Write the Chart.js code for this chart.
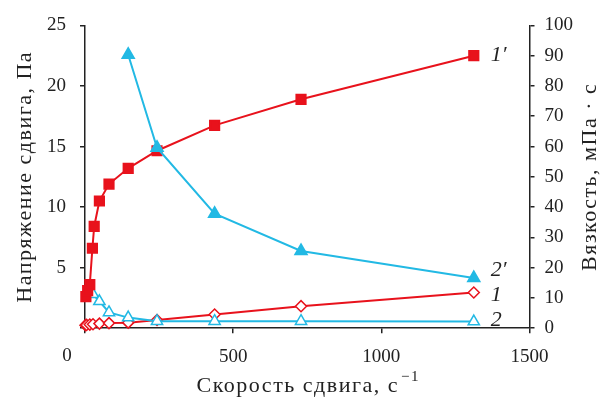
<!DOCTYPE html>
<html>
<head>
<meta charset="utf-8">
<script src="https://cdn.jsdelivr.net/npm/chart.js@4"></script>
<style>
  html, body { margin: 0; padding: 0; background: #fff; }
  #wrap { width: 603px; height: 406px; }
</style>
</head>
<body>
<div id="wrap"><canvas id="c"></canvas></div>
<script>
// shear rate, 1/s
const rate1p = [3, 9, 16.2, 25, 31, 48.6, 81, 145.8, 243, 437.4, 729, 1312];
const rate1 = [1.5, 5.4, 16.2, 27, 48.6, 81, 145.8, 243, 437.4, 729, 1312];
const rate2 = [27, 48.6, 81, 145.8, 243, 437.4, 729, 1312];
const rate2p = [145.8, 243, 437.4, 729, 1312];

// shear stress, Pa (left axis)
const stress1p = [2.6, 3.1, 3.6, 6.6, 8.4, 10.5, 11.9, 13.2, 14.65, 16.75, 18.9, 22.5];
const stress1 = [0.25, 0.27, 0.3, 0.33, 0.38, 0.42, 0.46, 0.68, 1.13, 1.82, 2.95];

// viscosity, mPa·s (right axis)
const visc2 = [11.2, 8.9, 5.2, 3.5, 2.3, 2.3, 2.3, 2.2];
const visc2p = [90.3, 59.6, 37.8, 25.5, 16.6];

const xTicks = [0, 500, 1000, 1500];
const curveLabels = ['1\u2032', '1', '2', '2\u2032'];

const red = '#e8121c';
const blue = '#22b9e4';

const pts = (xs, ys) => xs.map((v, i) => ({x: v, y: ys[i]}));

const tickFont = {family: '"Liberation Serif", serif', size: 19};

const annotations = {
  id: 'annotations',
  afterDraw(chart) {
    const {ctx, chartArea: a, scales} = chart;
    const midY = (a.top + a.bottom) / 2;
    ctx.save();
    ctx.fillStyle = '#222';

    // "0" on the x axis sits left of the axis corner
    ctx.font = '19px "Liberation Serif"';
    ctx.textAlign = 'center';
    ctx.textBaseline = 'middle';
    ctx.fillText('0', scales.x.getPixelForValue(0) - 18, 356);

    ctx.font = '22px "Liberation Serif"';
    ctx.letterSpacing = '1.5px';

    // x title with superscript
    const main = 'Скорость сдвига, с';
    const w1 = ctx.measureText(main).width;
    ctx.font = '15px "Liberation Serif"';
    const w2 = ctx.measureText('\u22121').width;
    const x0 = (a.left + a.right) / 2 - (w1 + w2) / 2;
    ctx.textAlign = 'left';
    ctx.font = '22px "Liberation Serif"';
    ctx.fillText(main, x0, 386);
    ctx.font = '15px "Liberation Serif"';
    ctx.fillText('\u22121', x0 + w1 + 2, 377);

    ctx.font = '22px "Liberation Serif"';
    ctx.textAlign = 'center';
    ctx.save();
    ctx.translate(25, midY);
    ctx.rotate(-Math.PI / 2);
    ctx.fillText('Напряжение сдвига, Па', 0, 0);
    ctx.restore();

    ctx.save();
    ctx.translate(590, midY);
    ctx.rotate(-Math.PI / 2);
    ctx.fillText('Вязкость, мПа · с', 0, 0);
    ctx.restore();

    // curve labels next to the last points
    ctx.letterSpacing = '0px';
    ctx.font = 'italic 22px "Liberation Serif"';
    ctx.textAlign = 'left';
    const last = (arr) => arr[arr.length - 1];
    const lx = scales.x.getPixelForValue(last(rate1p)) + 17;
    ctx.fillText(curveLabels[0], lx, scales.y.getPixelForValue(last(stress1p)));
    ctx.fillText(curveLabels[1], lx, scales.y.getPixelForValue(last(stress1)) + 3);
    ctx.fillText(curveLabels[2], lx, scales.y1.getPixelForValue(last(visc2)) - 1);
    ctx.fillText(curveLabels[3], lx, scales.y1.getPixelForValue(last(visc2p)) - 8);
    ctx.restore();
  }
};

new Chart(document.getElementById('c'), {
  type: 'line',
  data: {
    datasets: [{
      data: pts(rate2p, visc2p),
      yAxisID: 'y1',
      borderColor: blue,
      backgroundColor: blue,
      pointStyle: 'triangle',
      pointRadius: 6.5,
      borderWidth: 2
    }, {
      data: pts(rate1p, stress1p),
      yAxisID: 'y',
      borderColor: red,
      backgroundColor: red,
      pointStyle: 'rect',
      pointRadius: 6.5,
      borderWidth: 2
    }, {
      data: pts(rate2, visc2),
      yAxisID: 'y1',
      borderColor: blue,
      backgroundColor: '#fff',
      pointStyle: 'triangle',
      pointRadius: 6.5,
      pointBorderWidth: 1.5,
      borderWidth: 2
    }, {
      data: pts(rate1, stress1),
      yAxisID: 'y',
      borderColor: red,
      backgroundColor: '#fff',
      pointStyle: 'rectRot',
      pointRadius: 5.5,
      pointBorderWidth: 1.5,
      borderWidth: 2
    }]
  },
  options: {
    responsive: true,
    maintainAspectRatio: false,
    animation: false,
    clip: false,
    layout: {padding: {left: 33, right: 20, top: 25, bottom: 26}},
    plugins: {legend: {display: false}, tooltip: {enabled: false}},
    elements: {line: {tension: 0}},
    scales: {
      x: {
        type: 'linear',
        min: 0,
        max: 1500,
        afterBuildTicks: (s) => { s.ticks = xTicks.map(v => ({value: v})); },
        grid: {drawOnChartArea: false, color: '#222', tickLength: 5, lineWidth: 1.5},
        border: {color: '#222', width: 1.5},
        ticks: {
          font: tickFont, color: '#222', padding: 12, maxRotation: 0,
          callback: (v) => v === 0 ? '' : v
        }
      },
      y: {
        position: 'left',
        min: 0,
        max: 25,
        grid: {drawOnChartArea: false, color: '#222', tickLength: 5, lineWidth: 1.5},
        border: {color: '#222', width: 1.5},
        ticks: {
          stepSize: 5, font: tickFont, color: '#222', padding: 14,
          callback: (v) => v === 0 ? '' : v
        }
      },
      y1: {
        position: 'right',
        min: 0,
        max: 100,
        grid: {drawOnChartArea: false, color: '#222', tickLength: 5, lineWidth: 1.5},
        border: {color: '#222', width: 1.5},
        ticks: {stepSize: 10, font: tickFont, color: '#222', padding: 10}
      }
    }
  },
  plugins: [annotations]
});
</script>
</body>
</html>
